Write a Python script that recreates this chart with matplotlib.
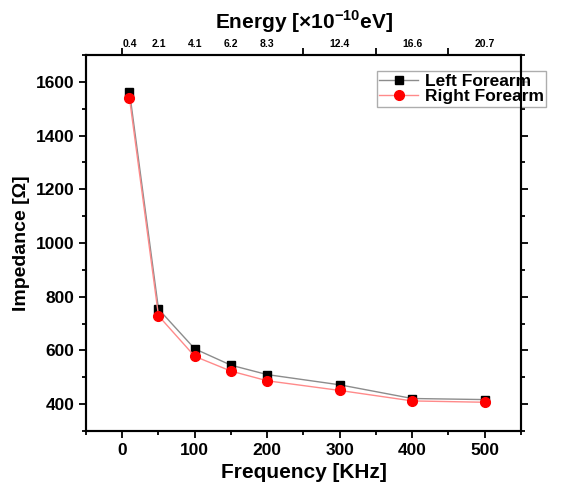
import numpy as np
import matplotlib.pyplot as plt
from matplotlib.ticker import MultipleLocator, FixedLocator, FixedFormatter

plt.rcParams['font.family'] = ['Liberation Sans', 'DejaVu Sans']
plt.rcParams['font.weight'] = 'bold'
plt.rcParams['mathtext.fontset'] = 'custom'
plt.rcParams['mathtext.rm'] = 'Liberation Sans:bold'
plt.rcParams['mathtext.bf'] = 'Liberation Sans:bold'

# frequency [kHz] and impedance [ohm]
freq = [10, 50, 100, 150, 200, 300, 400, 500]
left_forearm = [1563, 754, 606, 545, 510, 472, 421, 417]
right_forearm = [1539, 729, 578, 523, 487, 451, 412, 407]

# energy labels on the top axis [x1e-10 eV]
energy_pos = [10, 50, 100, 150, 200, 300, 400, 500]
energy_lbl = ['0.4', '2.1', '4.1', '6.2', '8.3', '12.4', '16.6', '20.7']

fig = plt.figure(figsize=(5.71, 4.9), dpi=100)
ax = fig.add_axes([0.1506, 0.1204, 0.7618, 0.7674])

ax.plot(freq, left_forearm, color='#8c8c8c', lw=1.0, marker='s', ms=6,
        mfc='black', mec='black', label='Left Forearm')
ax.plot(freq, right_forearm, color='#ff8a8a', lw=1.0, marker='o', ms=7,
        mfc='red', mec='red', label='Right Forearm')

ax.set_xlim(-50, 550)
ax.set_ylim(300, 1700)
ax.xaxis.set_major_locator(MultipleLocator(100))
ax.xaxis.set_minor_locator(MultipleLocator(50))
ax.yaxis.set_minor_locator(MultipleLocator(100))
ax.set_yticks([400, 600, 800, 1000, 1200, 1400, 1600])
ax.tick_params(which='major', direction='out', length=5, width=1.3, labelsize=12.5,
               right=True)
ax.tick_params(which='minor', direction='out', length=3, width=1.3, right=True)
for lab in ax.get_xticklabels() + ax.get_yticklabels():
    lab.set_fontweight('bold')
for s in ax.spines.values():
    s.set_linewidth(1.5)

ax.set_xlabel('Frequency [KHz]', fontsize=15, fontweight='bold', labelpad=4)
ax.set_ylabel('Impedance [Ω]', fontsize=14, fontweight='bold', labelpad=4)

top = ax.twiny()
top.set_xlim(ax.get_xlim())
top.xaxis.set_major_locator(FixedLocator(energy_pos))
top.xaxis.set_major_formatter(FixedFormatter(energy_lbl))
top.xaxis.set_minor_locator(FixedLocator(np.arange(0, 501, 50)))
top.tick_params(which='major', length=0, labelsize=7.5, pad=4)
top.tick_params(which='minor', direction='out', length=5, width=1.3)
for lab in top.get_xticklabels():
    lab.set_fontweight('bold')
top.set_xlabel('Energy [×10$^{\\mathbf{-10}}$eV]', fontsize=15, fontweight='bold',
               labelpad=8)
for s in top.spines.values():
    s.set_linewidth(1.5)

leg = ax.legend(loc='upper right', bbox_to_anchor=(1.07, 0.97), fontsize=12.5,
                frameon=True, fancybox=False, edgecolor='#999999',
                borderpad=0.15, labelspacing=0.0, handlelength=2.2,
                handletextpad=0.4, borderaxespad=0.3)
for t in leg.get_texts():
    t.set_fontweight('bold')

fig.savefig('out.png', dpi=100)
